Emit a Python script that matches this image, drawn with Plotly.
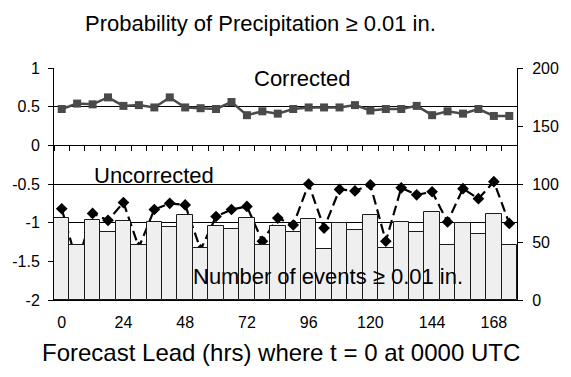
import plotly.graph_objects as go

lead_hours = [0, 6, 12, 18, 24, 30, 36, 42, 48, 54, 60, 66, 72, 78, 84,
              90, 96, 102, 108, 114, 120, 126, 132, 138, 144, 150, 156, 162, 168, 174]

corrected = [0.47, 0.54, 0.53, 0.62, 0.51, 0.52, 0.49, 0.62, 0.49, 0.48,
             0.47, 0.56, 0.39, 0.44, 0.41, 0.47, 0.49, 0.49, 0.49, 0.52,
             0.45, 0.47, 0.47, 0.51, 0.39, 0.44, 0.41, 0.47, 0.38, 0.38]

uncorrected = [-0.82, -1.53, -0.88, -0.97, -0.74, -1.32, -0.83, -0.75, -0.77, -1.35,
               -0.92, -0.83, -0.79, -1.24, -0.94, -1.03, -0.50, -1.07, -0.57, -0.59,
               -0.51, -1.24, -0.55, -0.64, -0.60, -0.99, -0.56, -0.69, -0.47, -1.01]

num_events = [71, 47, 69, 59, 68, 47, 67, 63, 73, 45,
              64, 61, 71, 47, 64, 59, 70, 44, 66, 60,
              73, 45, 67, 59, 76, 47, 66, 57, 74, 47]

left_ticks = [-2, -1.5, -1, -0.5, 0, 0.5, 1]
left_tick_text = ["-2", "-1.5", "-1", "-0.5", "0", "0.5", "1"]
right_ticks = [0, 50, 100, 150, 200]
x_label_ticks = [0, 24, 48, 72, 96, 120, 144, 168]

FONT = "Liberation Sans, Arial, sans-serif"

fig = go.Figure()

fig.add_trace(go.Bar(
    x=lead_hours, y=num_events, yaxis="y2", width=6,
    marker=dict(color="#efefef", line=dict(color="#1a1a1a", width=1)),
    showlegend=False, hoverinfo="skip",
))

fig.add_trace(go.Scatter(
    x=lead_hours, y=uncorrected, mode="lines+markers",
    line=dict(color="black", width=2.2, dash="10px,5px"),
    marker=dict(symbol="diamond", size=9, color="black"),
    showlegend=False,
))

fig.add_trace(go.Scatter(
    x=lead_hours, y=corrected, mode="lines+markers",
    line=dict(color="#4a4a4a", width=2.5),
    marker=dict(symbol="square", size=8, color="#4a4a4a"),
    showlegend=False,
))

# invisible trace carrying the zero-crossing category axis
fig.add_trace(go.Scatter(x=[lead_hours[0]], y=[0], xaxis="x2", mode="markers",
                         marker=dict(opacity=0), showlegend=False, hoverinfo="skip"))

xr = [-3, 177]
fig.update_layout(
    width=571, height=377,
    margin=dict(l=52, r=44, t=68, b=77),
    paper_bgcolor="white", plot_bgcolor="white",
    font=dict(family=FONT, size=16, color="black"),
    bargap=0,
    xaxis=dict(range=xr, tickvals=x_label_ticks, ticks="", showgrid=False,
               showline=True, linecolor="black", linewidth=1, zeroline=False,
               tickfont=dict(size=16), ticklabelstandoff=8),
    xaxis2=dict(range=xr, overlaying="x", anchor="free", position=2/3,
                tick0=-3, dtick=6, ticks="outside", ticklen=5, tickcolor="black",
                showticklabels=False, showgrid=False, showline=True,
                linecolor="black", linewidth=1, zeroline=False),
    yaxis=dict(range=[-2, 1], tickvals=left_ticks, ticktext=left_tick_text,
               showgrid=True, gridcolor="black", gridwidth=1,
               showline=True, linecolor="black", linewidth=1,
               ticks="outside", ticklen=5, tickcolor="black",
               zeroline=False, tickfont=dict(size=16), ticklabelstandoff=5),
    yaxis2=dict(range=[0, 200], tickvals=right_ticks, overlaying="y", side="right",
                showgrid=False, showline=True, linecolor="black", linewidth=1,
                ticks="outside", ticklen=5, tickcolor="black",
                zeroline=False, tickfont=dict(size=16), ticklabelstandoff=6),
    annotations=[
        dict(text="Probability of Precipitation \u2265 0.01 in.", xref="paper", yref="paper",
             x=(264 - 52) / 475, y=(300 - 23) / 232, showarrow=False,
             font=dict(size=22), xanchor="center", yanchor="middle"),
        dict(text="Corrected", xref="paper", yref="paper",
             x=(307 - 52) / 475, y=(300 - 78) / 232, showarrow=False,
             font=dict(size=22), xanchor="center", yanchor="middle"),
        dict(text="Uncorrected", xref="paper", yref="paper",
             x=(155 - 52) / 475, y=(300 - 175) / 232, showarrow=False,
             font=dict(size=22), xanchor="center", yanchor="middle"),
        dict(text="Number of events \u2265 0.01 in.", xref="paper", yref="paper",
             x=(333 - 52) / 475, y=(300 - 276) / 232, showarrow=False,
             font=dict(size=22), xanchor="center", yanchor="middle"),
        dict(text="Forecast Lead (hrs) where t = 0 at 0000 UTC", xref="paper", yref="paper",
             x=(285 - 52) / 475, y=(300 - 352) / 232, showarrow=False,
             font=dict(size=24), xanchor="center", yanchor="middle"),
    ],
)

fig.write_html("out.html")
